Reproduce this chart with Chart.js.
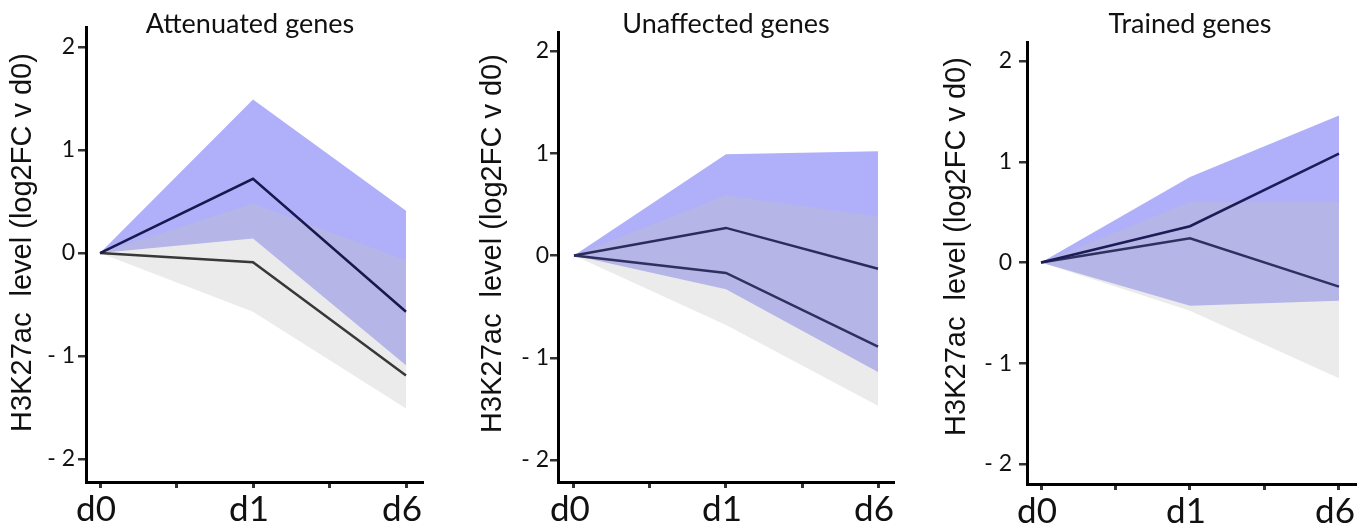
<!DOCTYPE html>
<html><head><meta charset="utf-8">
<script src="https://cdn.jsdelivr.net/npm/chart.js@4.4.1/dist/chart.umd.min.js"></script>
<style>
html,body{margin:0;padding:0;background:#fff;width:1367px;height:530px;overflow:hidden;position:relative}
canvas{position:absolute;left:0;top:0}
</style></head><body>
<canvas id="c1" width="1420" height="530"></canvas>
<canvas id="c2" width="1420" height="530"></canvas>
<canvas id="c3" width="1420" height="530"></canvas>
<script>
// ---------- data ----------
const days = ['d0', 'd1', 'd6'];
const dayPos = [0, 2, 4];
const xTickValues = [0, 1, 2, 3, 4];
const xTickLabels = ['d0', '', 'd1', '', 'd6'];
const yTickValues = [-2, -1, 0, 1, 2];
const panelTitles = ['Attenuated genes', 'Unaffected genes', 'Trained genes'];
const yAxisTitle = 'H3K27ac  level (log2FC v d0)';

// Attenuated genes
const attBlueLine  = [0, 0.72, -0.57];
const attBlueUpper = [0, 1.49, 0.41];
const attBlueLower = [0, 0.14, -1.09];
const attGrayLine  = [0, -0.09, -1.19];
const attGrayUpper = [0, 0.48, -0.07];
const attGrayLower = [0, -0.57, -1.51];

// Unaffected genes
const unaBlueLine  = [0, 0.27, -0.13];
const unaBlueUpper = [0, 0.99, 1.02];
const unaBlueLower = [0, -0.33, -1.14];
const unaGrayLine  = [0, -0.17, -0.89];
const unaGrayUpper = [0, 0.59, 0.38];
const unaGrayLower = [0, -0.68, -1.47];

// Trained genes
const trnBlueLine  = [0, 0.36, 1.08];
const trnBlueUpper = [0, 0.85, 1.46];
const trnBlueLower = [0, -0.43, -0.38];
const trnGrayLine  = [0, 0.24, -0.24];
const trnGrayUpper = [0, 0.60, 0.60];
const trnGrayLower = [0, -0.48, -1.15];

// ---------- layout / style ----------
const YW = 60, XH = 48, CW = 1420, CH = 530;
const panels = [
  { id: 'c1', title: panelTitles[0],
    series: [attBlueLine, attGrayLine, attGrayUpper, attGrayLower, attBlueUpper, attBlueLower],
    lineColors: ['#18184e', '#383838'],
    L: 86, R: 422, T: 27, B: 482, xMin: -0.183, xMax: 4.209, yMin: -2.223, yMax: 2.194,
    yPad: 3, tx: 250, ty: 33, lx: 22.5, ly: 242.5 },
  { id: 'c2', title: panelTitles[1],
    series: [unaBlueLine, unaGrayLine, unaGrayUpper, unaGrayLower, unaBlueUpper, unaBlueLower],
    lineColors: ['#2c2c5c', '#30305e'],
    L: 558, R: 893, T: 32, B: 482, xMin: -0.21, xMax: 4.197, yMin: -2.215, yMax: 2.186,
    yPad: 1, tx: 726, ty: 33, lx: 492.5, ly: 243.5 },
  { id: 'c3', title: panelTitles[2],
    series: [trnBlueLine, trnGrayLine, trnGrayUpper, trnGrayLower, trnBlueUpper, trnBlueLower],
    lineColors: ['#1c1c56', '#30305e'],
    L: 1027, R: 1355, T: 42, B: 484, xMin: -0.188, xMax: 4.215, yMin: -2.199, yMax: 2.189,
    yPad: 7, tx: 1190, ty: 33, lx: 957, ly: 246.5 }
];

const BLUE_FILL = 'rgb(176,176,250)';
const GRAY_FILL = 'rgba(192,192,192,0.32)';

const toXY = arr => arr.map((v, i) => ({ x: dayPos[i], y: v }));

const textPlugin = {
  id: 'panelText',
  afterDraw(chart, args, o) {
    const ctx = chart.ctx;
    ctx.save();
    ctx.fillStyle = '#111';
    ctx.textAlign = 'center';
    ctx.textBaseline = 'alphabetic';
    ctx.font = '27px Lato';
    ctx.fillText(o.title, o.tx, o.ty);
    ctx.translate(o.lx, o.ly);
    ctx.rotate(-Math.PI / 2);
    ctx.textBaseline = 'middle';
    ctx.font = '29px "Liberation Sans"';
    ctx.fillText(o.label, 0, 0);
    ctx.restore();
  }
};

panels.forEach(p => {
  const [bLine, gLine, gUp, gLo, bUp, bLo] = p.series;
  const band = (data, fill, color) => ({
    data: toXY(data), fill: fill, backgroundColor: color, borderColor: 'transparent',
    borderWidth: 0, pointRadius: 0, tension: 0
  });
  const line = (data, color) => ({
    data: toXY(data), fill: false, borderColor: color, borderWidth: 2.5,
    pointRadius: 0, tension: 0
  });
  new Chart(document.getElementById(p.id), {
    type: 'line',
    data: {
      datasets: [
        line(bLine, p.lineColors[0]),
        line(gLine, p.lineColors[1]),
        band(gUp, '+1', GRAY_FILL),
        band(gLo, false, 'transparent'),
        band(bUp, '+1', BLUE_FILL),
        band(bLo, false, 'transparent')
      ]
    },
    plugins: [textPlugin],
    options: {
      responsive: false, animation: false,
      layout: { padding: { left: p.L - YW, right: CW - p.R, top: p.T, bottom: CH - p.B - XH } },
      plugins: {
        legend: { display: false }, tooltip: { enabled: false },
        filler: { drawTime: 'beforeDatasetsDraw' },
        panelText: { title: p.title, label: yAxisTitle, tx: p.tx, ty: p.ty, lx: p.lx, ly: p.ly }
      },
      scales: {
        x: {
          type: 'linear', min: p.xMin, max: p.xMax,
          afterFit: s => { s.height = XH; },
          afterBuildTicks: s => { s.ticks = xTickValues.map(v => ({ value: v })); },
          ticks: {
            callback: (v, i) => xTickLabels[i],
            font: { family: 'Lato', size: 35 }, color: '#111',
            padding: 1, labelOffset: -4, maxRotation: 0, autoSkip: false
          },
          grid: { display: true, drawOnChartArea: false, drawTicks: true, tickLength: 6,
                  lineWidth: 3, tickWidth: 3, tickColor: '#333' },
          border: { display: true, color: '#000', width: 3 }
        },
        y: {
          type: 'linear', position: 'left', min: p.yMin, max: p.yMax,
          afterFit: s => { s.width = YW; },
          afterBuildTicks: s => { s.ticks = yTickValues.map(v => ({ value: v })); },
          ticks: {
            callback: v => (v < 0 ? '- ' + Math.abs(v) : String(v)),
            font: { family: 'Lato', size: 23 }, color: '#111', padding: p.yPad
          },
          grid: { display: true, drawOnChartArea: false, drawTicks: true, tickLength: 8,
                  lineWidth: 2.5, tickWidth: 2.5, tickColor: '#333' },
          border: { display: true, color: '#000', width: 3 }
        }
      }
    }
  });
});
</script>
</body></html>
